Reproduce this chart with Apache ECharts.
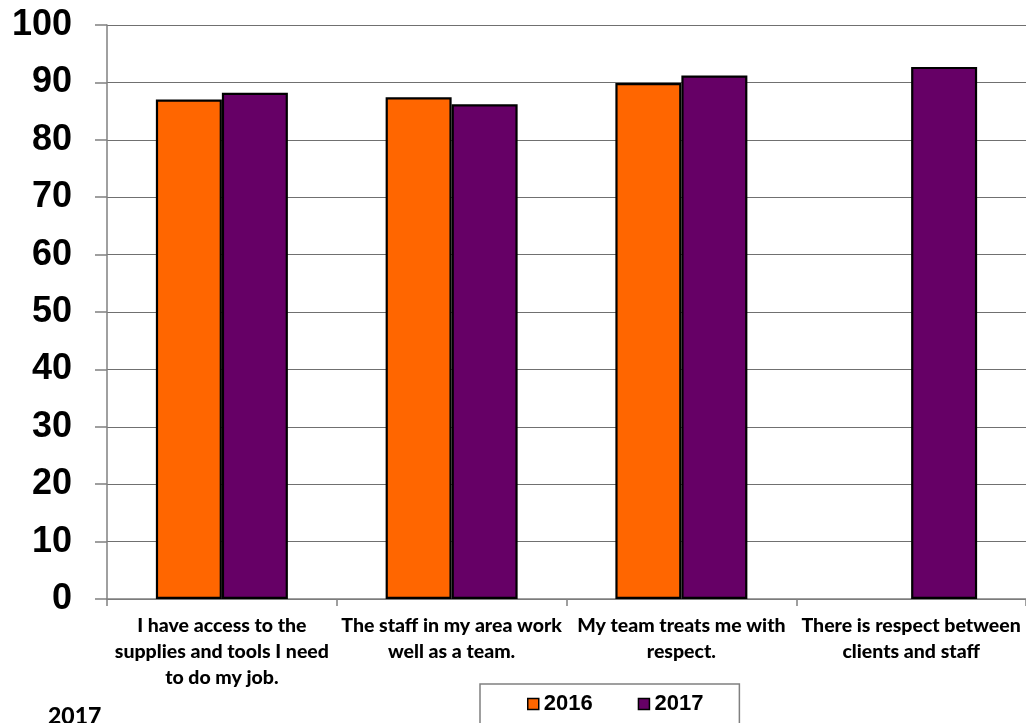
<!DOCTYPE html>
<html>
<head>
<meta charset="utf-8">
<script src="https://cdn.jsdelivr.net/npm/echarts@6/dist/echarts.min.js"></script>
<style>
  html, body { margin: 0; padding: 0; background: #ffffff; }
  #chart { width: 1026px; height: 723px; }
</style>
</head>
<body>
<div id="chart"></div>
<script>
// Survey statements (x-axis categories), line breaks as displayed
const categories = [
  'I have access to the\nsupplies and tools I need\nto do my job.',
  'The staff in my area work\nwell as a team.',
  'My team treats me with\nrespect.',
  'There is respect between\nclients and staff'
];
// Percent agreement per year (no 2016 result for the last statement)
const values2016 = [87.0, 87.4, 89.9, null];
const values2017 = [88.2, 86.2, 91.2, 92.7];
const seriesNames = ['2016', '2017'];
const yTicks = { min: 0, max: 100, step: 10 };

const COLOR_2016 = '#FF6600';
const COLOR_2017 = '#660066';

const chart = echarts.init(document.getElementById('chart'), null, { renderer: 'canvas' });

const barStyle = (color) => ({
  color: color,
  borderColor: '#000000',
  borderWidth: 2.2
});

chart.setOption({
  animation: false,
  backgroundColor: '#ffffff',
  title: {
    text: '2017',
    left: 43,
    top: 700,
    textStyle: { fontFamily: 'Lato', fontWeight: 900, fontSize: 23, color: '#000000' }
  },
  legend: {
    data: seriesNames,
    left: 480,
    top: 684,
    orient: 'horizontal',
    itemWidth: 11,
    itemHeight: 11,
    itemGap: 45,
    icon: 'rect',
    borderColor: '#808080',
    borderWidth: 1.5,
    padding: [9, 36, 22, 47],
    textStyle: {
      fontFamily: 'Liberation Sans, Arial, sans-serif',
      fontWeight: 'bold',
      fontSize: 22,
      lineHeight: 22,
      color: '#000000'
    },
    itemStyle: { borderColor: '#000000', borderWidth: 1.5 }
  },
  grid: {
    left: 107,
    top: 25,
    width: 922,
    bottom: 124,
    containLabel: false
  },
  xAxis: {
    type: 'category',
    data: categories,
    axisLine: { show: true, lineStyle: { color: '#808080', width: 1.5 } },
    axisTick: { show: true, alignWithLabel: false, length: 7, lineStyle: { color: '#808080', width: 1.5 } },
    splitLine: { show: false },
    axisLabel: {
      interval: 0,
      margin: 14,
      fontFamily: 'Lato',
      fontWeight: 900,
      fontSize: 19.5,
      lineHeight: 26,
      color: '#000000',
      align: 'center'
    }
  },
  yAxis: {
    type: 'value',
    min: yTicks.min,
    max: yTicks.max,
    interval: yTicks.step,
    axisLine: { show: true, lineStyle: { color: '#808080', width: 1.5 } },
    axisTick: { show: true, inside: false, length: 12, lineStyle: { color: '#808080', width: 1.5 } },
    splitLine: { show: true, lineStyle: { color: '#707070', width: 1.2 } },
    axisLabel: {
      margin: 35,
      fontFamily: 'Liberation Sans, Arial, sans-serif',
      fontWeight: 'bold',
      fontSize: 36,
      color: '#000000'
    }
  },
  series: [
    {
      name: seriesNames[0],
      type: 'bar',
      data: values2016,
      barWidth: 66,
      barGap: '0%',
      itemStyle: barStyle(COLOR_2016)
    },
    {
      name: seriesNames[1],
      type: 'bar',
      data: values2017,
      barWidth: 66,
      barGap: '0%',
      itemStyle: barStyle(COLOR_2017)
    }
  ]
});
</script>
</body>
</html>
